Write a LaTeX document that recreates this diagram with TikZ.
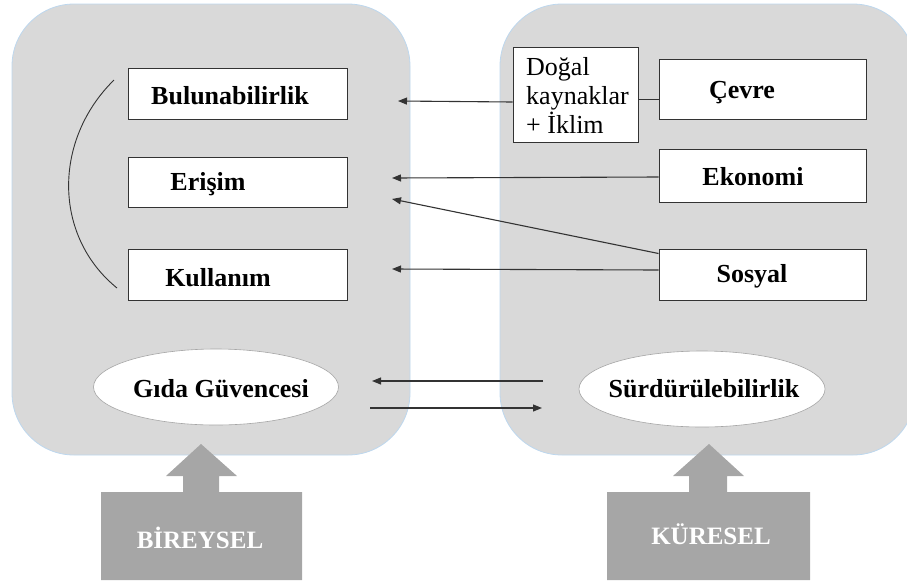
\documentclass[tikz,border=0pt]{standalone}
\usepackage{fontspec}
\setmainfont{Liberation Serif}
\usetikzlibrary{arrows.meta,shapes.geometric}
\definecolor{panel}{HTML}{D9D9D9}
\definecolor{panelline}{HTML}{BDD7EE}
\definecolor{blockgray}{HTML}{A6A6A6}
\definecolor{linegray}{HTML}{333333}
\tikzset{
  panelbox/.style={fill=panel, draw=panelline, line width=0.8pt, rounded corners=62pt},
  wbox/.style={draw=linegray, fill=white, line width=1pt, inner sep=0pt},
  lbl/.style={font=\fontsize{26}{30}\selectfont\bfseries, inner sep=0pt, anchor=base},
  oval/.style={ellipse, draw=black!35, fill=white, line width=0.6pt, inner sep=0pt},
  arr/.style={draw=linegray, line width=1.1pt, -{Triangle[length=9pt,width=7pt]}},
  plain/.style={draw=linegray, line width=1pt},
  block/.style={fill=blockgray, draw=none},
  blocklbl/.style={font=\fontsize{25}{29}\selectfont\bfseries, text=white, inner sep=0pt, anchor=base}
}
\begin{document}
\begin{tikzpicture}[x=1pt,y=-1pt]
\useasboundingbox (0,0) rectangle (907,582);
\clip (0,0) rectangle (907,582);
% panels
\draw[panelbox] (12,4) rectangle (410,455);
\draw[panelbox] (500,4) rectangle (915,455);
% left boxes
\node[wbox, minimum width=219pt, minimum height=51pt] (bul) at (237.5,93.5) {};
\node[lbl] (bult) at (230,104) {Bulunabilirlik};
\node[wbox, minimum width=219pt, minimum height=50pt] (eri) at (237.5,182) {};
\node[lbl] (erit) at (208,190) {Erişim};
\node[wbox, minimum width=219pt, minimum height=51pt] (kul) at (237.5,274.5) {};
\node[lbl] (kult) at (218,286) {Kullanım};
% right boxes
\node[wbox, minimum width=125pt, minimum height=95pt] (dog) at (575.5,94.5) {};
\node[font=\fontsize{26}{29}\selectfont, align=left, anchor=north west, inner sep=0pt] (dogt) at (526,57) {Doğal\\kaynaklar\\+ İklim};
\node[wbox, minimum width=207pt, minimum height=60pt] (cev) at (762.5,89) {};
\node[lbl] (cevt) at (742,98) {Çevre};
\node[wbox, minimum width=207pt, minimum height=53pt] (eko) at (762.5,175.5) {};
\node[lbl] (ekot) at (753,185) {Ekonomi};
\node[wbox, minimum width=207pt, minimum height=51pt] (sos) at (762.5,274.5) {};
\node[lbl] (sost) at (752,282) {Sosyal};
% ovals
\node[oval, minimum width=245pt, minimum height=76pt] (gida) at (216,387) {};
\node[lbl] (gidat) at (221,397) {Gıda Güvencesi};
\node[oval, minimum width=246pt, minimum height=76pt] (surd) at (702,389) {};
\node[lbl] (surdt) at (704,397) {Sürdürülebilirlik};
% free ends
\coordinate (t1) at (398,101);
\coordinate (t2) at (392,178);
\coordinate (t3) at (392,199);
\coordinate (t4) at (392,269);
\coordinate (g1) at (372,381);
\coordinate (g1s) at (543,381);
\coordinate (g2s) at (370,408);
\coordinate (g2) at (542,408);
% connectors
\draw[arr] (dog.west |- 0,102) -- (t1);
\draw[plain] (dog.east |- 0,99) -- (cev.west |- 0,99);
\draw[arr] (eko.west |- 0,177) -- (t2);
\draw[arr] ([yshift=-5pt]sos.north west) -- (t3);
\draw[arr] (sos.west |- 0,270) -- (t4);
\draw[arr] (g1s) -- (g1);
\draw[arr] (g2s) -- (g2);
% arc
\draw[linegray, line width=0.9pt] (114,80) .. controls (53,140) and (53,236) .. (117,288);
% block arrows
\fill[block] (101,492) -- (183,492) -- (183,476) -- (166,476) -- (201,444) -- (237,476) -- (219,476) -- (219,492) -- (302,492) -- (302,580) -- (101,580) -- cycle;
\node[blocklbl] (bir) at (200,548) {BİREYSEL};
\fill[block] (607,492) -- (689,492) -- (689,476) -- (673,476) -- (709,444) -- (744,476) -- (727,476) -- (727,492) -- (810,492) -- (810,580) -- (607,580) -- cycle;
\node[blocklbl] (kur) at (711,544) {KÜRESEL};
\end{tikzpicture}
\end{document}
